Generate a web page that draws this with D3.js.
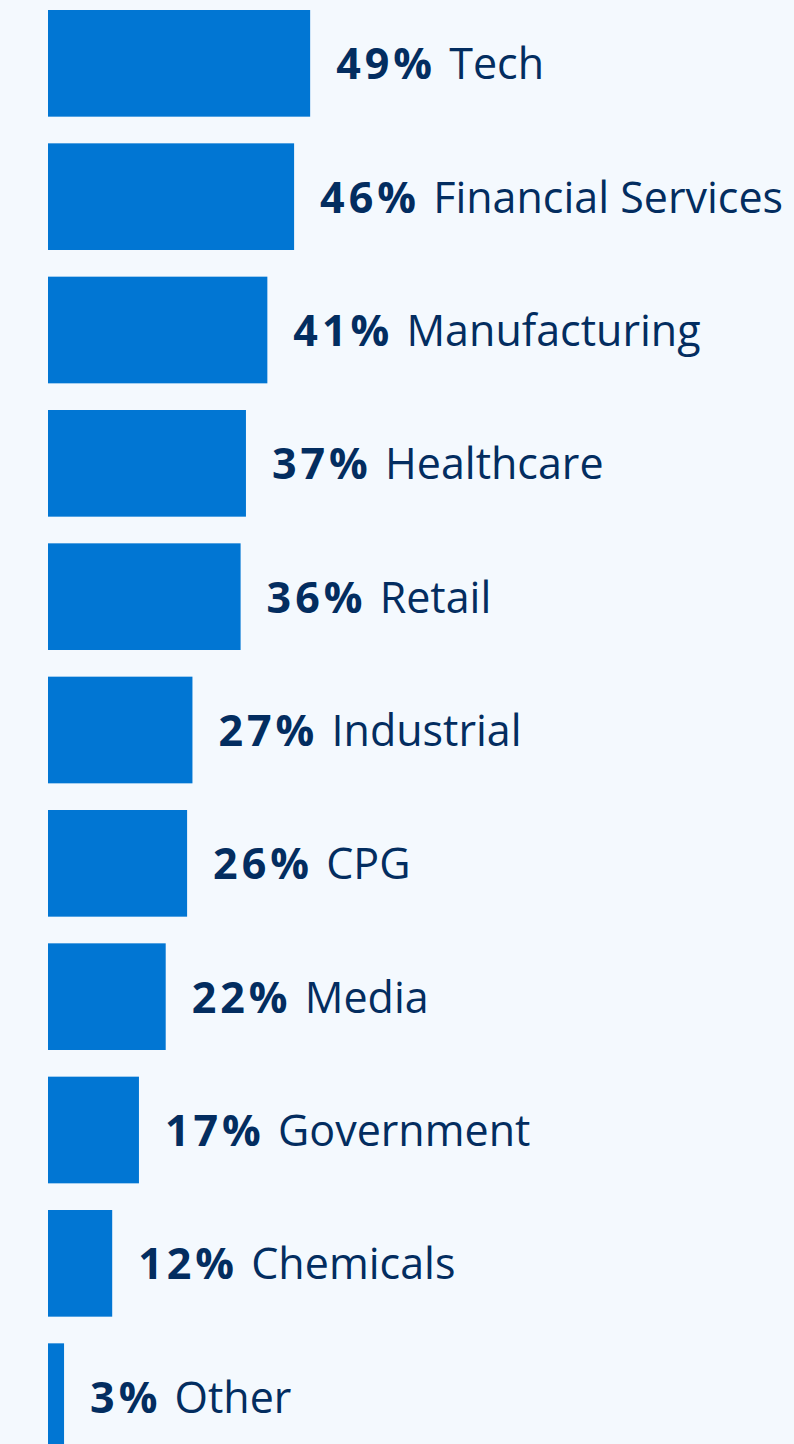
<!DOCTYPE html>
<html>
<head>
<meta charset="utf-8">
<script src="https://cdn.jsdelivr.net/npm/d3@7"></script>
<style>
  html, body { margin: 0; padding: 0; background: #f4f9fe; }
  svg { display: block; }
</style>
</head>
<body>
<svg id="chart" width="794" height="1444"></svg>
<script>
// Share of respondents by industry
const industries = ["Tech", "Financial Services", "Manufacturing", "Healthcare", "Retail",
  "Industrial", "CPG", "Media", "Government", "Chemicals", "Other"];
const shares = [49, 46, 41, 37, 36, 27, 26, 22, 17, 12, 3];

const width = 794, height = 1444;
const svg = d3.select("#chart");

svg.append("rect").attr("width", width).attr("height", height).attr("fill", "#f4f9fe");

const x = d3.scaleLinear().domain([0, 100]).range([48, 48 + 535]);
const y = d3.scaleBand().domain(industries).range([10, 1450]).paddingInner(0.2).paddingOuter(0);

const rows = industries.map((name, i) => ({ name, value: shares[i] }));

svg.selectAll("rect.bar")
  .data(rows)
  .join("rect")
  .attr("class", "bar")
  .attr("x", x(0))
  .attr("y", d => y(d.name))
  .attr("width", d => x(d.value) - x(0))
  .attr("height", y.bandwidth())
  .attr("fill", "#0176d3");

const labels = svg.selectAll("text.label")
  .data(rows)
  .join("text")
  .attr("class", "label")
  .attr("x", d => x(d.value) + 26)
  .attr("y", d => y(d.name) + y.bandwidth() / 2)
  .attr("dy", "0.37em")
  .attr("font-family", "'Open Sans', sans-serif")
  .attr("font-size", 43)
  .attr("fill", "#032d60");

labels.append("tspan").attr("font-weight", 700).attr("letter-spacing", 4).text(d => d.value + "%");
labels.append("tspan").attr("font-weight", 400).attr("dx", 2).text(d => " " + d.name);
</script>
</body>
</html>
